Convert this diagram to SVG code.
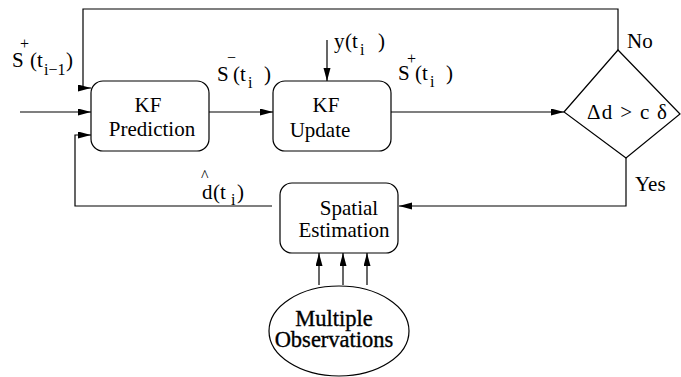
<svg xmlns="http://www.w3.org/2000/svg" width="681" height="377" viewBox="0 0 681 377">
<defs>
<style>
.ln{fill:none;stroke:#000;stroke-width:1.2}
.bx{fill:#fff;stroke:#000;stroke-width:1.2}
.t{font-family:'Liberation Serif',serif;font-size:21px;fill:#000}
.sub{font-size:16px}
.c{text-anchor:middle}
.obs{font-size:22.5px;stroke:#000;stroke-width:0.35}
</style>
<marker id="ah" markerUnits="userSpaceOnUse" markerWidth="14" markerHeight="8" refX="13" refY="3.5" orient="auto">
<path d="M0,0 L13,3.5 L0,7 Z" fill="#000"/>
</marker>
</defs>
<rect width="681" height="377" fill="#fff"/>
<g id="connectors">
<path class="ln" d="M618,50 V9 H83 V88 H91" marker-end="url(#ah)"/>
<path class="ln" d="M20,112 H91" marker-end="url(#ah)"/>
<path class="ln" d="M272,206 H75 V135 H91" marker-end="url(#ah)"/>
<path class="ln" d="M209,112 H273" marker-end="url(#ah)"/>
<path class="ln" d="M327,40 V81" marker-end="url(#ah)"/>
<path class="ln" d="M391,112 H564" marker-end="url(#ah)"/>
<path class="ln" d="M626,158 V206 H399" marker-end="url(#ah)"/>
<path class="ln" d="M319,285 V253" marker-end="url(#ah)"/>
<path class="ln" d="M343,285 V253" marker-end="url(#ah)"/>
<path class="ln" d="M367,285 V253" marker-end="url(#ah)"/>
</g>
<g id="labels" font-family="Liberation Serif, serif">
<text class="t" x="12" y="67">S<tspan class="sub" x="20" y="49">+</tspan><tspan x="30" y="67">(t</tspan><tspan class="sub" x="44" y="75">i−1</tspan><tspan x="66" y="67">)</tspan></text>
<text class="t" x="217" y="81">S<tspan class="sub" x="227" y="63">−</tspan><tspan x="233" y="81">(t</tspan><tspan class="sub" x="248" y="88">i</tspan><tspan x="264" y="81">)</tspan></text>
<text class="t" x="334" y="48">y<tspan x="345" y="48">(t</tspan><tspan class="sub" x="360" y="55">i</tspan><tspan x="378" y="48">)</tspan></text>
<text class="t" x="398" y="80">S<tspan class="sub" x="407" y="64">+</tspan><tspan x="415" y="80">(t</tspan><tspan class="sub" x="430" y="87">i</tspan><tspan x="446" y="80">)</tspan></text>
<text class="t sub" x="201" y="181">^</text>
<text class="t" x="202" y="199">d<tspan x="213" y="199">(t</tspan><tspan class="sub" x="231" y="205">i</tspan><tspan x="237" y="199">)</tspan></text>
<text class="t" x="627" y="48">No</text>
<text class="t" x="635" y="191">Yes</text>
</g>
<g id="kf-prediction" font-family="Liberation Serif, serif">
<rect class="bx" x="91" y="81" width="118" height="70" rx="12"/>
<text class="t c" x="148" y="112">KF</text>
<text class="t c" x="152" y="136">Prediction</text>
</g>
<g id="kf-update" font-family="Liberation Serif, serif">
<rect class="bx" x="273" y="81" width="118" height="70" rx="12"/>
<text class="t c" x="326" y="112">KF</text>
<text class="t c" x="320" y="137">Update</text>
</g>
<g id="decision" font-family="Liberation Serif, serif">
<path class="bx" d="M564,112 L618,50 L680,114 L626,158 Z"/>
<text class="t" x="587" y="119" textLength="80">Δd &gt; c δ</text>
</g>
<g id="spatial-estimation" font-family="Liberation Serif, serif">
<rect class="bx" x="280" y="183" width="118" height="70" rx="12"/>
<text class="t c" x="349" y="215">Spatial</text>
<text class="t c" x="344" y="237">Estimation</text>
</g>
<g id="multiple-observations" font-family="Liberation Serif, serif">
<ellipse class="bx" cx="339" cy="331" rx="70" ry="45"/>
<text class="t c obs" x="334" y="326">Multiple</text>
<text class="t c obs" x="334" y="347">Observations</text>
</g>
</svg>
